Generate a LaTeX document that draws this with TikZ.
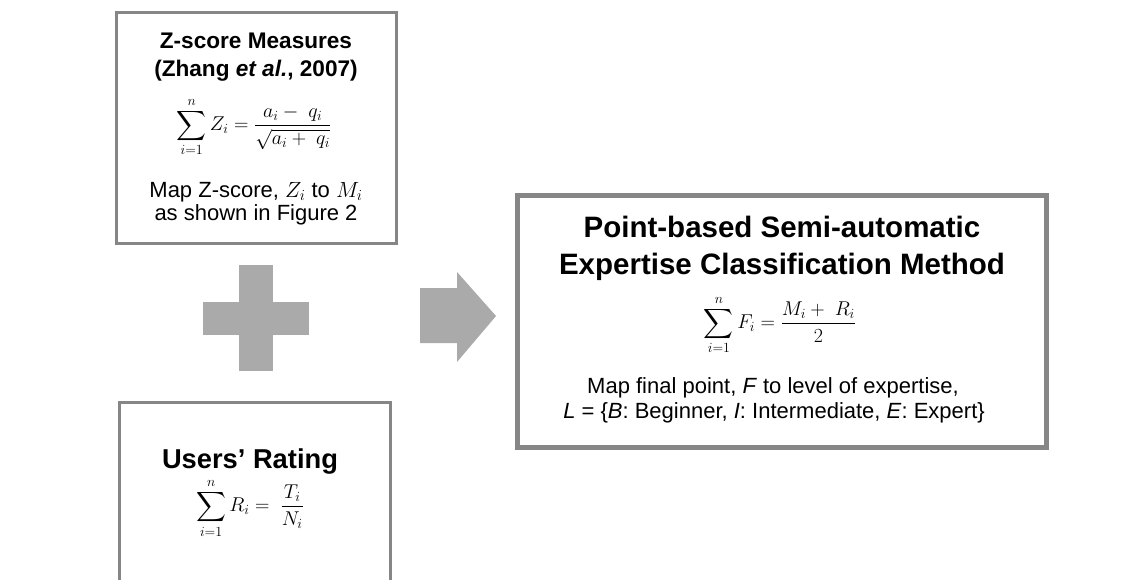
\RequirePackage{fix-cm}
\documentclass[tikz,border=0pt]{standalone}
\usepackage{exscale}
\usepackage[no-math]{fontspec}
\setmainfont{Liberation Sans}
\definecolor{boxgray}{HTML}{868686}
\definecolor{shapegray}{HTML}{AAAAAA}
\tikzset{
  panel/.style={draw=boxgray, line width=3pt, fill=white, inner sep=0pt},
  bigpanel/.style={draw=boxgray, line width=5pt, fill=white, inner sep=0pt},
  txt/.style={inner sep=0pt, anchor=base, font=\fontsize{22}{26}\selectfont},
  ttl/.style={inner sep=0pt, anchor=base, font=\bfseries\fontsize{22.6}{27}\selectfont},
  rttl/.style={inner sep=0pt, anchor=base, font=\bfseries\fontsize{27.3}{32}\selectfont},
  bigttl/.style={inner sep=0pt, anchor=base, font=\bfseries\fontsize{29.5}{35}\selectfont},
  formula/.style={inner sep=0pt, font=\fontsize{20}{24}\selectfont},
  blockshape/.style={fill=shapegray, draw=none}
}
\begin{document}
\begin{tikzpicture}[x=1pt,y=-1pt]
\clip (0,0) rectangle (1145,580);
\fill[white] (0,0) rectangle (1145,580);

% Z-score box
\node[panel, minimum width=280pt, minimum height=231pt] (zbox) at (256.5,128) {};
\node[ttl] (zt1) at (256,49) {Z-score Measures};
\node[ttl] (zt2) at (256,77) {(Zhang \textit{et al.}, 2007)};
\node[formula] (zf) at (254,127) {$\displaystyle\sum_{i=1}^{n} Z_i = \frac{a_i - \ q_i}{\sqrt{a_i + \ q_i}}$};
\node[txt] (zm1) at (256,197) {Map Z-score, $Z_i$ to $M_i$};
\node[txt] (zm2) at (256,220) {as shown in Figure 2};

% plus sign
\coordinate (plus) at (256,318);
\fill[blockshape] (239,265) rectangle (273,371);
\fill[blockshape] (203,302) rectangle (309,335);

% Users' rating box
\node[panel, minimum width=271pt, minimum height=200pt] (ubox) at (255,502.5) {};
\node[rttl] (ut) at (250,468) {Users’ Rating};
\node[formula] (uf) at (250,508) {$\displaystyle\sum_{i=1}^{n} R_i = \ \frac{T_i}{N_i}$};

% arrow
\fill[blockshape] (420,288) -- (457,288) -- (457,272) -- (496,316) -- (457,362) -- (457,343) -- (420,343) -- cycle;

% result box
\node[bigpanel, minimum width=529pt, minimum height=252pt] (pbox) at (782,321.5) {};
\node[bigttl] (pt1) at (782,237) {Point-based Semi-automatic};
\node[bigttl] (pt2) at (782,274) {Expertise Classification Method};
\node[formula] (pf) at (780,325) {$\displaystyle\sum_{i=1}^{n} F_i = \frac{M_i +\ R_i}{2}$};
\node[txt] (pm1) at (773,393) {Map final point, \textit{F} to level of expertise,};
\node[txt] (pm2) at (774,418) {\textit{L} = \{\textit{B}: Beginner, \textit{I}: Intermediate, \textit{E}: Expert\}};
\end{tikzpicture}
\end{document}
